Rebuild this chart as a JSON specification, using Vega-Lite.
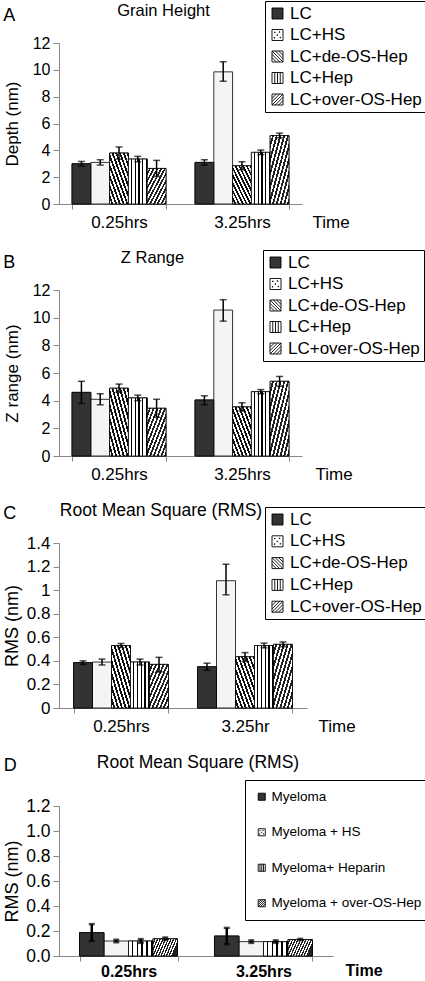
{
"$schema": "https://vega.github.io/schema/vega-lite/v6.json",
"background": "white",
"padding": {"left": 3, "top": 0, "right": 0, "bottom": 0},
"config": {
  "view": {"stroke": null},
  "font": "Liberation Sans",
  "axis": {"domainColor": "#888", "tickColor": "#888", "labelColor": "black", "titleColor": "black", "labelFont": "Liberation Sans", "titleFont": "Liberation Sans", "grid": false, "titleFontWeight": "normal"},
  "legend": {"labelFont": "Liberation Sans", "labelColor": "black", "labelLimit": 0, "symbolOpacity": 1, "symbolStrokeWidth": 0.9},
  "title": {"font": "Liberation Sans", "fontWeight": "normal", "color": "black"}
},
"datasets": {
  "a": [
    {"time": "0.25hrs", "series": "LC", "value": 3.0, "lo": 2.83, "hi": 3.17},
    {"time": "0.25hrs", "series": "LC+HS", "value": 3.1, "lo": 2.9, "hi": 3.3},
    {"time": "0.25hrs", "series": "LC+de-OS-Hep", "value": 3.8, "lo": 3.35, "hi": 4.25},
    {"time": "0.25hrs", "series": "LC+Hep", "value": 3.35, "lo": 3.15, "hi": 3.55},
    {"time": "0.25hrs", "series": "LC+over-OS-Hep", "value": 2.65, "lo": 2.05, "hi": 3.25},
    {"time": "3.25hrs", "series": "LC", "value": 3.1, "lo": 2.9, "hi": 3.3},
    {"time": "3.25hrs", "series": "LC+HS", "value": 9.85, "lo": 9.15, "hi": 10.6},
    {"time": "3.25hrs", "series": "LC+de-OS-Hep", "value": 2.85, "lo": 2.55, "hi": 3.15},
    {"time": "3.25hrs", "series": "LC+Hep", "value": 3.85, "lo": 3.68, "hi": 4.02},
    {"time": "3.25hrs", "series": "LC+over-OS-Hep", "value": 5.1, "lo": 4.93, "hi": 5.28}
  ],
  "b": [
    {"time": "0.25hrs", "series": "LC", "value": 4.6, "lo": 3.8, "hi": 5.4},
    {"time": "0.25hrs", "series": "LC+HS", "value": 4.1, "lo": 3.7, "hi": 4.5},
    {"time": "0.25hrs", "series": "LC+de-OS-Hep", "value": 4.9, "lo": 4.6, "hi": 5.2},
    {"time": "0.25hrs", "series": "LC+Hep", "value": 4.2, "lo": 4.0, "hi": 4.4},
    {"time": "0.25hrs", "series": "LC+over-OS-Hep", "value": 3.45, "lo": 2.8, "hi": 4.1},
    {"time": "3.25hrs", "series": "LC", "value": 4.05, "lo": 3.7, "hi": 4.35},
    {"time": "3.25hrs", "series": "LC+HS", "value": 10.55, "lo": 9.75, "hi": 11.3},
    {"time": "3.25hrs", "series": "LC+de-OS-Hep", "value": 3.55, "lo": 3.25, "hi": 3.85},
    {"time": "3.25hrs", "series": "LC+Hep", "value": 4.65, "lo": 4.5, "hi": 4.8},
    {"time": "3.25hrs", "series": "LC+over-OS-Hep", "value": 5.4, "lo": 5.05, "hi": 5.75}
  ],
  "c": [
    {"time": "0.25hrs", "series": "LC", "value": 0.385, "lo": 0.37, "hi": 0.4},
    {"time": "0.25hrs", "series": "LC+HS", "value": 0.39, "lo": 0.365, "hi": 0.415},
    {"time": "0.25hrs", "series": "LC+de-OS-Hep", "value": 0.53, "lo": 0.513, "hi": 0.547},
    {"time": "0.25hrs", "series": "LC+Hep", "value": 0.39, "lo": 0.365, "hi": 0.415},
    {"time": "0.25hrs", "series": "LC+over-OS-Hep", "value": 0.37, "lo": 0.305, "hi": 0.43},
    {"time": "3.25hr", "series": "LC", "value": 0.35, "lo": 0.32, "hi": 0.38},
    {"time": "3.25hr", "series": "LC+HS", "value": 1.08, "lo": 0.96, "hi": 1.22},
    {"time": "3.25hr", "series": "LC+de-OS-Hep", "value": 0.435, "lo": 0.395, "hi": 0.47},
    {"time": "3.25hr", "series": "LC+Hep", "value": 0.53, "lo": 0.51, "hi": 0.55},
    {"time": "3.25hr", "series": "LC+over-OS-Hep", "value": 0.54, "lo": 0.52, "hi": 0.56}
  ],
  "d": [
    {"time": "0.25hrs", "series": "Myeloma", "value": 0.187, "lo": 0.12, "hi": 0.255},
    {"time": "0.25hrs", "series": "Myeloma + HS", "value": 0.12, "lo": 0.11, "hi": 0.13},
    {"time": "0.25hrs", "series": "Myeloma+ Heparin", "value": 0.12, "lo": 0.105, "hi": 0.135},
    {"time": "0.25hrs", "series": "Myeloma + over-OS-Hep", "value": 0.138, "lo": 0.128, "hi": 0.148},
    {"time": "3.25hrs", "series": "Myeloma", "value": 0.16, "lo": 0.095, "hi": 0.225},
    {"time": "3.25hrs", "series": "Myeloma + HS", "value": 0.115, "lo": 0.105, "hi": 0.125},
    {"time": "3.25hrs", "series": "Myeloma+ Heparin", "value": 0.115, "lo": 0.105, "hi": 0.125},
    {"time": "3.25hrs", "series": "Myeloma + over-OS-Hep", "value": 0.132, "lo": 0.127, "hi": 0.137}
  ]
},
"concat": [
  {
    "title": {"text": "A", "anchor": "start", "frame": "bounds", "fontSize": 18, "offset": -24},
    "vconcat": [{
      "title": {"text": "Grain Height", "dx": -17, "fontSize": 16.5, "offset": 16},
      "width": 243, "height": 161,
      "data": {"name": "a"},
      "encoding": {
        "x": {"field": "time", "type": "nominal", "sort": null, "title": "Time",
          "scale": {"paddingInner": 0.236, "paddingOuter": 0.106},
          "axis": {"labelAngle": 0, "labelFontSize": 17, "tickBand": "extent", "titleX": 253, "titleY": 18, "titleAlign": "left", "titleBaseline": "middle", "titleFontSize": 17, "labelPadding": 5, "tickSize": 5}},
        "xOffset": {"field": "series", "type": "nominal", "sort": null, "scale": {"domain": ["LC", "LC+HS", "LC+de-OS-Hep", "LC+Hep", "LC+over-OS-Hep"], "paddingInner": 0, "paddingOuter": 0}},
        "y": {"field": "value", "type": "quantitative", "title": "Depth (nm)", "scale": {"domain": [0, 12]},
             "axis": {"values": [0, 2, 4, 6, 8, 10, 12], "labelFontSize": 16, "titleFontSize": 17, "tickSize": 6, "labelPadding": 3, "titlePadding": 11}}
      },
      "layer": [
        {"mark": {"type": "bar", "stroke": "black", "strokeWidth": 0.8, "fill": "#f4f4f4"}, "encoding": {}},
        {"transform": [{"filter": "datum.series === 'LC'"}], "mark": {"type": "bar", "stroke": "black", "strokeWidth": 0.8, "fill": "#333333"}, "encoding": {}},
        {"transform": [{"filter": "datum.series === 'LC+de-OS-Hep'"}],
         "mark": {"type": "bar", "stroke": "black", "strokeWidth": 0.8, "fill": {"gradient": "linear", "x1": 0, "y1": 1, "x2": 1, "y2": 0, "stops": [{"offset":0,"color":"#fff"},{"offset":0.05,"color":"#fff"},{"offset":0.05,"color":"#111"},{"offset":0.1,"color":"#111"},{"offset":0.1,"color":"#fff"},{"offset":0.15,"color":"#fff"},{"offset":0.15,"color":"#111"},{"offset":0.2,"color":"#111"},{"offset":0.2,"color":"#fff"},{"offset":0.25,"color":"#fff"},{"offset":0.25,"color":"#111"},{"offset":0.3,"color":"#111"},{"offset":0.3,"color":"#fff"},{"offset":0.35,"color":"#fff"},{"offset":0.35,"color":"#111"},{"offset":0.4,"color":"#111"},{"offset":0.4,"color":"#fff"},{"offset":0.45,"color":"#fff"},{"offset":0.45,"color":"#111"},{"offset":0.5,"color":"#111"},{"offset":0.5,"color":"#fff"},{"offset":0.55,"color":"#fff"},{"offset":0.55,"color":"#111"},{"offset":0.6,"color":"#111"},{"offset":0.6,"color":"#fff"},{"offset":0.65,"color":"#fff"},{"offset":0.65,"color":"#111"},{"offset":0.7,"color":"#111"},{"offset":0.7,"color":"#fff"},{"offset":0.75,"color":"#fff"},{"offset":0.75,"color":"#111"},{"offset":0.8,"color":"#111"},{"offset":0.8,"color":"#fff"},{"offset":0.85,"color":"#fff"},{"offset":0.85,"color":"#111"},{"offset":0.9,"color":"#111"},{"offset":0.9,"color":"#fff"},{"offset":0.95,"color":"#fff"},{"offset":0.95,"color":"#111"},{"offset":1,"color":"#111"}]}},
         "encoding": {}},
        {"transform": [{"filter": "datum.series === 'LC+Hep'"}],
         "mark": {"type": "bar", "stroke": "black", "strokeWidth": 0.8, "fill": {"gradient": "linear", "x1": 0, "y1": 0, "x2": 1, "y2": 0, "stops": [{"offset":0,"color":"#fff"},{"offset":0.13,"color":"#fff"},{"offset":0.13,"color":"#000"},{"offset":0.2,"color":"#000"},{"offset":0.2,"color":"#fff"},{"offset":0.33,"color":"#fff"},{"offset":0.33,"color":"#000"},{"offset":0.4,"color":"#000"},{"offset":0.4,"color":"#fff"},{"offset":0.53,"color":"#fff"},{"offset":0.53,"color":"#000"},{"offset":0.6,"color":"#000"},{"offset":0.6,"color":"#fff"},{"offset":0.73,"color":"#fff"},{"offset":0.73,"color":"#000"},{"offset":0.8,"color":"#000"},{"offset":0.8,"color":"#fff"},{"offset":0.93,"color":"#fff"},{"offset":0.93,"color":"#000"},{"offset":1,"color":"#000"}]}},
         "encoding": {}},
        {"transform": [{"filter": "datum.series === 'LC+over-OS-Hep'"}],
         "mark": {"type": "bar", "stroke": "black", "strokeWidth": 0.8, "fill": {"gradient": "linear", "x1": 0, "y1": 0, "x2": 1, "y2": 1, "stops": [{"offset":0,"color":"#fff"},{"offset":0.05,"color":"#fff"},{"offset":0.05,"color":"#222"},{"offset":0.1,"color":"#222"},{"offset":0.1,"color":"#fff"},{"offset":0.15,"color":"#fff"},{"offset":0.15,"color":"#222"},{"offset":0.2,"color":"#222"},{"offset":0.2,"color":"#fff"},{"offset":0.25,"color":"#fff"},{"offset":0.25,"color":"#222"},{"offset":0.3,"color":"#222"},{"offset":0.3,"color":"#fff"},{"offset":0.35,"color":"#fff"},{"offset":0.35,"color":"#222"},{"offset":0.4,"color":"#222"},{"offset":0.4,"color":"#fff"},{"offset":0.45,"color":"#fff"},{"offset":0.45,"color":"#222"},{"offset":0.5,"color":"#222"},{"offset":0.5,"color":"#fff"},{"offset":0.55,"color":"#fff"},{"offset":0.55,"color":"#222"},{"offset":0.6,"color":"#222"},{"offset":0.6,"color":"#fff"},{"offset":0.65,"color":"#fff"},{"offset":0.65,"color":"#222"},{"offset":0.7,"color":"#222"},{"offset":0.7,"color":"#fff"},{"offset":0.75,"color":"#fff"},{"offset":0.75,"color":"#222"},{"offset":0.8,"color":"#222"},{"offset":0.8,"color":"#fff"},{"offset":0.85,"color":"#fff"},{"offset":0.85,"color":"#222"},{"offset":0.9,"color":"#222"},{"offset":0.9,"color":"#fff"},{"offset":0.95,"color":"#fff"},{"offset":0.95,"color":"#222"},{"offset":1,"color":"#222"}]}},
         "encoding": {}},
        {"mark": {"type": "point", "opacity": 0},
         "encoding": {
           "fill": {"field": "series", "type": "nominal", "sort": null,
             "scale": {"domain": ["LC", "LC+HS", "LC+de-OS-Hep", "LC+Hep", "LC+over-OS-Hep"], "range": ["#333333", "#ffffff", "#ffffff", "#ffffff", "#ffffff"]},
             "legend": {"title": null, "orient": "none", "legendX": 206, "legendY": -42, "strokeColor": "black", "fillColor": "white", "padding": 4, "labelFontSize": 17, "symbolSize": 121, "rowPadding": 3.5, "labelOffset": 4}},
           "stroke": {"field": "series", "type": "nominal", "sort": null,
             "scale": {"domain": ["LC", "LC+HS", "LC+de-OS-Hep", "LC+Hep", "LC+over-OS-Hep"], "range": ["#000000", "#000000", "#000000", "#000000", "#000000"]},
             "legend": {"title": null, "orient": "none", "legendX": 206, "legendY": -42, "strokeColor": "black", "fillColor": "white", "padding": 4, "labelFontSize": 17, "symbolSize": 121, "rowPadding": 3.5, "labelOffset": 4}},
           "shape": {"field": "series", "type": "nominal", "sort": null,
             "scale": {"domain": ["LC", "LC+HS", "LC+de-OS-Hep", "LC+Hep", "LC+over-OS-Hep"], "range": ["M-1,-1H1V1H-1Z", "M-1,-1H1V1H-1Z M-0.55,-0.55h0.12v0.12h-0.12Z M0.3,-0.6h0.12v0.12h-0.12Z M-0.1,-0.05h0.12v0.12h-0.12Z M0.45,0.4h0.12v0.12h-0.12Z M-0.6,0.45h0.12v0.12h-0.12Z", "M-1,-1H1V1H-1Z M-1,-1L1,1 M-0.4,-1L1,0.4 M0.2,-1L1,-0.2 M-1,-0.4L0.4,1 M-1,0.2L-0.2,1", "M-1,-1H1V1H-1Z M-0.5,-1V1 M0,-1V1 M0.5,-1V1", "M-1,-1H1V1H-1Z M-1,1L1,-1 M-0.4,1L1,-0.4 M0.2,1L1,0.2 M-1,0.4L0.4,-1 M-1,-0.2L-0.2,-1"]},
             "legend": {"title": null, "orient": "none", "legendX": 206, "legendY": -42, "strokeColor": "black", "fillColor": "white", "padding": 4, "labelFontSize": 17, "symbolSize": 121, "rowPadding": 3.5, "labelOffset": 4}}
         }},
        {"mark": {"type": "rule", "strokeWidth": 1.5, "color": "black"},
         "encoding": {"y": {"field": "lo", "type": "quantitative", "title": "Depth (nm)"}, "y2": {"field": "hi"}}},
        {"mark": {"type": "tick", "color": "black", "thickness": 1.5, "size": 7},
         "encoding": {"y": {"field": "lo", "type": "quantitative", "title": "Depth (nm)"}}},
        {"mark": {"type": "tick", "color": "black", "thickness": 1.5, "size": 7},
         "encoding": {"y": {"field": "hi", "type": "quantitative", "title": "Depth (nm)"}}}
      ]
    }]
  },
  {
    "title": {"text": "B", "anchor": "start", "frame": "bounds", "fontSize": 18, "offset": -22},
    "vconcat": [{
      "title": {"text": "Z Range", "dx": -28, "fontSize": 16.5, "offset": 16},
      "width": 243, "height": 166,
      "data": {"name": "b"},
      "encoding": {
        "x": {"field": "time", "type": "nominal", "sort": null, "title": "Time",
          "scale": {"paddingInner": 0.236, "paddingOuter": 0.106},
          "axis": {"labelAngle": 0, "labelFontSize": 17, "tickBand": "extent", "titleX": 256, "titleY": 18, "titleAlign": "left", "titleBaseline": "middle", "titleFontSize": 17, "labelPadding": 5, "tickSize": 5}},
        "xOffset": {"field": "series", "type": "nominal", "sort": null, "scale": {"domain": ["LC", "LC+HS", "LC+de-OS-Hep", "LC+Hep", "LC+over-OS-Hep"], "paddingInner": 0, "paddingOuter": 0}},
        "y": {"field": "value", "type": "quantitative", "title": "Z range (nm)", "scale": {"domain": [0, 12]},
             "axis": {"values": [0, 2, 4, 6, 8, 10, 12], "labelFontSize": 16, "titleFontSize": 17, "tickSize": 6, "labelPadding": 3, "titlePadding": 11}}
      },
      "layer": [
        {"mark": {"type": "bar", "stroke": "black", "strokeWidth": 0.8, "fill": "#f4f4f4"}, "encoding": {}},
        {"transform": [{"filter": "datum.series === 'LC'"}], "mark": {"type": "bar", "stroke": "black", "strokeWidth": 0.8, "fill": "#333333"}, "encoding": {}},
        {"transform": [{"filter": "datum.series === 'LC+de-OS-Hep'"}],
         "mark": {"type": "bar", "stroke": "black", "strokeWidth": 0.8, "fill": {"gradient": "linear", "x1": 0, "y1": 1, "x2": 1, "y2": 0, "stops": [{"offset":0,"color":"#fff"},{"offset":0.05,"color":"#fff"},{"offset":0.05,"color":"#111"},{"offset":0.1,"color":"#111"},{"offset":0.1,"color":"#fff"},{"offset":0.15,"color":"#fff"},{"offset":0.15,"color":"#111"},{"offset":0.2,"color":"#111"},{"offset":0.2,"color":"#fff"},{"offset":0.25,"color":"#fff"},{"offset":0.25,"color":"#111"},{"offset":0.3,"color":"#111"},{"offset":0.3,"color":"#fff"},{"offset":0.35,"color":"#fff"},{"offset":0.35,"color":"#111"},{"offset":0.4,"color":"#111"},{"offset":0.4,"color":"#fff"},{"offset":0.45,"color":"#fff"},{"offset":0.45,"color":"#111"},{"offset":0.5,"color":"#111"},{"offset":0.5,"color":"#fff"},{"offset":0.55,"color":"#fff"},{"offset":0.55,"color":"#111"},{"offset":0.6,"color":"#111"},{"offset":0.6,"color":"#fff"},{"offset":0.65,"color":"#fff"},{"offset":0.65,"color":"#111"},{"offset":0.7,"color":"#111"},{"offset":0.7,"color":"#fff"},{"offset":0.75,"color":"#fff"},{"offset":0.75,"color":"#111"},{"offset":0.8,"color":"#111"},{"offset":0.8,"color":"#fff"},{"offset":0.85,"color":"#fff"},{"offset":0.85,"color":"#111"},{"offset":0.9,"color":"#111"},{"offset":0.9,"color":"#fff"},{"offset":0.95,"color":"#fff"},{"offset":0.95,"color":"#111"},{"offset":1,"color":"#111"}]}},
         "encoding": {}},
        {"transform": [{"filter": "datum.series === 'LC+Hep'"}],
         "mark": {"type": "bar", "stroke": "black", "strokeWidth": 0.8, "fill": {"gradient": "linear", "x1": 0, "y1": 0, "x2": 1, "y2": 0, "stops": [{"offset":0,"color":"#fff"},{"offset":0.13,"color":"#fff"},{"offset":0.13,"color":"#000"},{"offset":0.2,"color":"#000"},{"offset":0.2,"color":"#fff"},{"offset":0.33,"color":"#fff"},{"offset":0.33,"color":"#000"},{"offset":0.4,"color":"#000"},{"offset":0.4,"color":"#fff"},{"offset":0.53,"color":"#fff"},{"offset":0.53,"color":"#000"},{"offset":0.6,"color":"#000"},{"offset":0.6,"color":"#fff"},{"offset":0.73,"color":"#fff"},{"offset":0.73,"color":"#000"},{"offset":0.8,"color":"#000"},{"offset":0.8,"color":"#fff"},{"offset":0.93,"color":"#fff"},{"offset":0.93,"color":"#000"},{"offset":1,"color":"#000"}]}},
         "encoding": {}},
        {"transform": [{"filter": "datum.series === 'LC+over-OS-Hep'"}],
         "mark": {"type": "bar", "stroke": "black", "strokeWidth": 0.8, "fill": {"gradient": "linear", "x1": 0, "y1": 0, "x2": 1, "y2": 1, "stops": [{"offset":0,"color":"#fff"},{"offset":0.05,"color":"#fff"},{"offset":0.05,"color":"#222"},{"offset":0.1,"color":"#222"},{"offset":0.1,"color":"#fff"},{"offset":0.15,"color":"#fff"},{"offset":0.15,"color":"#222"},{"offset":0.2,"color":"#222"},{"offset":0.2,"color":"#fff"},{"offset":0.25,"color":"#fff"},{"offset":0.25,"color":"#222"},{"offset":0.3,"color":"#222"},{"offset":0.3,"color":"#fff"},{"offset":0.35,"color":"#fff"},{"offset":0.35,"color":"#222"},{"offset":0.4,"color":"#222"},{"offset":0.4,"color":"#fff"},{"offset":0.45,"color":"#fff"},{"offset":0.45,"color":"#222"},{"offset":0.5,"color":"#222"},{"offset":0.5,"color":"#fff"},{"offset":0.55,"color":"#fff"},{"offset":0.55,"color":"#222"},{"offset":0.6,"color":"#222"},{"offset":0.6,"color":"#fff"},{"offset":0.65,"color":"#fff"},{"offset":0.65,"color":"#222"},{"offset":0.7,"color":"#222"},{"offset":0.7,"color":"#fff"},{"offset":0.75,"color":"#fff"},{"offset":0.75,"color":"#222"},{"offset":0.8,"color":"#222"},{"offset":0.8,"color":"#fff"},{"offset":0.85,"color":"#fff"},{"offset":0.85,"color":"#222"},{"offset":0.9,"color":"#222"},{"offset":0.9,"color":"#fff"},{"offset":0.95,"color":"#fff"},{"offset":0.95,"color":"#222"},{"offset":1,"color":"#222"}]}},
         "encoding": {}},
        {"mark": {"type": "point", "opacity": 0},
         "encoding": {
           "fill": {"field": "series", "type": "nominal", "sort": null,
             "scale": {"domain": ["LC", "LC+HS", "LC+de-OS-Hep", "LC+Hep", "LC+over-OS-Hep"], "range": ["#333333", "#ffffff", "#ffffff", "#ffffff", "#ffffff"]},
             "legend": {"title": null, "orient": "none", "legendX": 204, "legendY": -40, "strokeColor": "black", "fillColor": "white", "padding": 4, "labelFontSize": 17, "symbolSize": 121, "rowPadding": 3.5, "labelOffset": 4}},
           "stroke": {"field": "series", "type": "nominal", "sort": null,
             "scale": {"domain": ["LC", "LC+HS", "LC+de-OS-Hep", "LC+Hep", "LC+over-OS-Hep"], "range": ["#000000", "#000000", "#000000", "#000000", "#000000"]},
             "legend": {"title": null, "orient": "none", "legendX": 204, "legendY": -40, "strokeColor": "black", "fillColor": "white", "padding": 4, "labelFontSize": 17, "symbolSize": 121, "rowPadding": 3.5, "labelOffset": 4}},
           "shape": {"field": "series", "type": "nominal", "sort": null,
             "scale": {"domain": ["LC", "LC+HS", "LC+de-OS-Hep", "LC+Hep", "LC+over-OS-Hep"], "range": ["M-1,-1H1V1H-1Z", "M-1,-1H1V1H-1Z M-0.55,-0.55h0.12v0.12h-0.12Z M0.3,-0.6h0.12v0.12h-0.12Z M-0.1,-0.05h0.12v0.12h-0.12Z M0.45,0.4h0.12v0.12h-0.12Z M-0.6,0.45h0.12v0.12h-0.12Z", "M-1,-1H1V1H-1Z M-1,-1L1,1 M-0.4,-1L1,0.4 M0.2,-1L1,-0.2 M-1,-0.4L0.4,1 M-1,0.2L-0.2,1", "M-1,-1H1V1H-1Z M-0.5,-1V1 M0,-1V1 M0.5,-1V1", "M-1,-1H1V1H-1Z M-1,1L1,-1 M-0.4,1L1,-0.4 M0.2,1L1,0.2 M-1,0.4L0.4,-1 M-1,-0.2L-0.2,-1"]},
             "legend": {"title": null, "orient": "none", "legendX": 204, "legendY": -40, "strokeColor": "black", "fillColor": "white", "padding": 4, "labelFontSize": 17, "symbolSize": 121, "rowPadding": 3.5, "labelOffset": 4}}
         }},
        {"mark": {"type": "rule", "strokeWidth": 1.5, "color": "black"},
         "encoding": {"y": {"field": "lo", "type": "quantitative", "title": "Z range (nm)"}, "y2": {"field": "hi"}}},
        {"mark": {"type": "tick", "color": "black", "thickness": 1.5, "size": 7},
         "encoding": {"y": {"field": "lo", "type": "quantitative", "title": "Z range (nm)"}}},
        {"mark": {"type": "tick", "color": "black", "thickness": 1.5, "size": 7},
         "encoding": {"y": {"field": "hi", "type": "quantitative", "title": "Z range (nm)"}}}
      ]
    }]
  },
  {
    "title": {"text": "C", "anchor": "start", "frame": "bounds", "fontSize": 18, "offset": -21},
    "vconcat": [{
      "title": {"text": "Root Mean Square (RMS)", "dx": -22, "fontSize": 17.5, "offset": 15},
      "width": 248, "height": 165,
      "data": {"name": "c"},
      "encoding": {
        "x": {"field": "time", "type": "nominal", "sort": null, "title": "Time",
          "scale": {"paddingInner": 0.234, "paddingOuter": 0.117},
          "axis": {"labelAngle": 0, "labelFontSize": 17, "tickBand": "extent", "titleX": 259, "titleY": 18, "titleAlign": "left", "titleBaseline": "middle", "titleFontSize": 17, "labelPadding": 5, "tickSize": 5}},
        "xOffset": {"field": "series", "type": "nominal", "sort": null, "scale": {"domain": ["LC", "LC+HS", "LC+de-OS-Hep", "LC+Hep", "LC+over-OS-Hep"], "paddingInner": 0, "paddingOuter": 0}},
        "y": {"field": "value", "type": "quantitative", "title": "RMS (nm)", "scale": {"domain": [0, 1.4]},
             "axis": {"values": [0, 0.2, 0.4, 0.6, 0.8, 1, 1.2, 1.4], "format": "~g", "labelFontSize": 17, "titleFontSize": 18, "tickSize": 6, "labelPadding": 3, "titlePadding": 5}}
      },
      "layer": [
        {"mark": {"type": "bar", "stroke": "black", "strokeWidth": 0.8, "fill": "#f4f4f4"}, "encoding": {}},
        {"transform": [{"filter": "datum.series === 'LC'"}], "mark": {"type": "bar", "stroke": "black", "strokeWidth": 0.8, "fill": "#333333"}, "encoding": {}},
        {"transform": [{"filter": "datum.series === 'LC+de-OS-Hep'"}],
         "mark": {"type": "bar", "stroke": "black", "strokeWidth": 0.8, "fill": {"gradient": "linear", "x1": 0, "y1": 1, "x2": 1, "y2": 0, "stops": [{"offset":0,"color":"#fff"},{"offset":0.05,"color":"#fff"},{"offset":0.05,"color":"#111"},{"offset":0.1,"color":"#111"},{"offset":0.1,"color":"#fff"},{"offset":0.15,"color":"#fff"},{"offset":0.15,"color":"#111"},{"offset":0.2,"color":"#111"},{"offset":0.2,"color":"#fff"},{"offset":0.25,"color":"#fff"},{"offset":0.25,"color":"#111"},{"offset":0.3,"color":"#111"},{"offset":0.3,"color":"#fff"},{"offset":0.35,"color":"#fff"},{"offset":0.35,"color":"#111"},{"offset":0.4,"color":"#111"},{"offset":0.4,"color":"#fff"},{"offset":0.45,"color":"#fff"},{"offset":0.45,"color":"#111"},{"offset":0.5,"color":"#111"},{"offset":0.5,"color":"#fff"},{"offset":0.55,"color":"#fff"},{"offset":0.55,"color":"#111"},{"offset":0.6,"color":"#111"},{"offset":0.6,"color":"#fff"},{"offset":0.65,"color":"#fff"},{"offset":0.65,"color":"#111"},{"offset":0.7,"color":"#111"},{"offset":0.7,"color":"#fff"},{"offset":0.75,"color":"#fff"},{"offset":0.75,"color":"#111"},{"offset":0.8,"color":"#111"},{"offset":0.8,"color":"#fff"},{"offset":0.85,"color":"#fff"},{"offset":0.85,"color":"#111"},{"offset":0.9,"color":"#111"},{"offset":0.9,"color":"#fff"},{"offset":0.95,"color":"#fff"},{"offset":0.95,"color":"#111"},{"offset":1,"color":"#111"}]}},
         "encoding": {}},
        {"transform": [{"filter": "datum.series === 'LC+Hep'"}],
         "mark": {"type": "bar", "stroke": "black", "strokeWidth": 0.8, "fill": {"gradient": "linear", "x1": 0, "y1": 0, "x2": 1, "y2": 0, "stops": [{"offset":0,"color":"#fff"},{"offset":0.13,"color":"#fff"},{"offset":0.13,"color":"#000"},{"offset":0.2,"color":"#000"},{"offset":0.2,"color":"#fff"},{"offset":0.33,"color":"#fff"},{"offset":0.33,"color":"#000"},{"offset":0.4,"color":"#000"},{"offset":0.4,"color":"#fff"},{"offset":0.53,"color":"#fff"},{"offset":0.53,"color":"#000"},{"offset":0.6,"color":"#000"},{"offset":0.6,"color":"#fff"},{"offset":0.73,"color":"#fff"},{"offset":0.73,"color":"#000"},{"offset":0.8,"color":"#000"},{"offset":0.8,"color":"#fff"},{"offset":0.93,"color":"#fff"},{"offset":0.93,"color":"#000"},{"offset":1,"color":"#000"}]}},
         "encoding": {}},
        {"transform": [{"filter": "datum.series === 'LC+over-OS-Hep'"}],
         "mark": {"type": "bar", "stroke": "black", "strokeWidth": 0.8, "fill": {"gradient": "linear", "x1": 0, "y1": 0, "x2": 1, "y2": 1, "stops": [{"offset":0,"color":"#fff"},{"offset":0.05,"color":"#fff"},{"offset":0.05,"color":"#222"},{"offset":0.1,"color":"#222"},{"offset":0.1,"color":"#fff"},{"offset":0.15,"color":"#fff"},{"offset":0.15,"color":"#222"},{"offset":0.2,"color":"#222"},{"offset":0.2,"color":"#fff"},{"offset":0.25,"color":"#fff"},{"offset":0.25,"color":"#222"},{"offset":0.3,"color":"#222"},{"offset":0.3,"color":"#fff"},{"offset":0.35,"color":"#fff"},{"offset":0.35,"color":"#222"},{"offset":0.4,"color":"#222"},{"offset":0.4,"color":"#fff"},{"offset":0.45,"color":"#fff"},{"offset":0.45,"color":"#222"},{"offset":0.5,"color":"#222"},{"offset":0.5,"color":"#fff"},{"offset":0.55,"color":"#fff"},{"offset":0.55,"color":"#222"},{"offset":0.6,"color":"#222"},{"offset":0.6,"color":"#fff"},{"offset":0.65,"color":"#fff"},{"offset":0.65,"color":"#222"},{"offset":0.7,"color":"#222"},{"offset":0.7,"color":"#fff"},{"offset":0.75,"color":"#fff"},{"offset":0.75,"color":"#222"},{"offset":0.8,"color":"#222"},{"offset":0.8,"color":"#fff"},{"offset":0.85,"color":"#fff"},{"offset":0.85,"color":"#222"},{"offset":0.9,"color":"#222"},{"offset":0.9,"color":"#fff"},{"offset":0.95,"color":"#fff"},{"offset":0.95,"color":"#222"},{"offset":1,"color":"#222"}]}},
         "encoding": {}},
        {"mark": {"type": "point", "opacity": 0},
         "encoding": {
           "fill": {"field": "series", "type": "nominal", "sort": null,
             "scale": {"domain": ["LC", "LC+HS", "LC+de-OS-Hep", "LC+Hep", "LC+over-OS-Hep"], "range": ["#333333", "#ffffff", "#ffffff", "#ffffff", "#ffffff"]},
             "legend": {"title": null, "orient": "none", "legendX": 206, "legendY": -36, "strokeColor": "black", "fillColor": "white", "padding": 4, "labelFontSize": 17, "symbolSize": 121, "rowPadding": 3.8, "labelOffset": 4}},
           "stroke": {"field": "series", "type": "nominal", "sort": null,
             "scale": {"domain": ["LC", "LC+HS", "LC+de-OS-Hep", "LC+Hep", "LC+over-OS-Hep"], "range": ["#000000", "#000000", "#000000", "#000000", "#000000"]},
             "legend": {"title": null, "orient": "none", "legendX": 206, "legendY": -36, "strokeColor": "black", "fillColor": "white", "padding": 4, "labelFontSize": 17, "symbolSize": 121, "rowPadding": 3.8, "labelOffset": 4}},
           "shape": {"field": "series", "type": "nominal", "sort": null,
             "scale": {"domain": ["LC", "LC+HS", "LC+de-OS-Hep", "LC+Hep", "LC+over-OS-Hep"], "range": ["M-1,-1H1V1H-1Z", "M-1,-1H1V1H-1Z M-0.55,-0.55h0.12v0.12h-0.12Z M0.3,-0.6h0.12v0.12h-0.12Z M-0.1,-0.05h0.12v0.12h-0.12Z M0.45,0.4h0.12v0.12h-0.12Z M-0.6,0.45h0.12v0.12h-0.12Z", "M-1,-1H1V1H-1Z M-1,-1L1,1 M-0.4,-1L1,0.4 M0.2,-1L1,-0.2 M-1,-0.4L0.4,1 M-1,0.2L-0.2,1", "M-1,-1H1V1H-1Z M-0.5,-1V1 M0,-1V1 M0.5,-1V1", "M-1,-1H1V1H-1Z M-1,1L1,-1 M-0.4,1L1,-0.4 M0.2,1L1,0.2 M-1,0.4L0.4,-1 M-1,-0.2L-0.2,-1"]},
             "legend": {"title": null, "orient": "none", "legendX": 206, "legendY": -36, "strokeColor": "black", "fillColor": "white", "padding": 4, "labelFontSize": 17, "symbolSize": 121, "rowPadding": 3.8, "labelOffset": 4}}
         }},
        {"mark": {"type": "rule", "strokeWidth": 1.5, "color": "black"},
         "encoding": {"y": {"field": "lo", "type": "quantitative", "title": "RMS (nm)"}, "y2": {"field": "hi"}}},
        {"mark": {"type": "tick", "color": "black", "thickness": 1.5, "size": 7},
         "encoding": {"y": {"field": "lo", "type": "quantitative", "title": "RMS (nm)"}}},
        {"mark": {"type": "tick", "color": "black", "thickness": 1.5, "size": 7},
         "encoding": {"y": {"field": "hi", "type": "quantitative", "title": "RMS (nm)"}}}
      ]
    }]
  },
  {
    "title": {"text": "D", "anchor": "start", "frame": "bounds", "fontSize": 18, "offset": -21},
    "vconcat": [{
      "title": {"text": "Root Mean Square (RMS)", "dx": 2, "fontSize": 17.5, "offset": 26},
      "width": 274, "height": 150,
      "data": {"name": "d"},
      "encoding": {
        "x": {"field": "time", "type": "nominal", "sort": null, "title": "Time",
          "scale": {"paddingInner": 0.274, "paddingOuter": 0.152},
          "axis": {"labelAngle": 0, "labelFontSize": 16, "labelFontWeight": "bold", "tickBand": "extent", "titleX": 286, "titleY": 14, "titleAlign": "left", "titleBaseline": "middle", "titleFontSize": 16, "titleFontWeight": "bold", "labelPadding": 2, "tickSize": 5}},
        "xOffset": {"field": "series", "type": "nominal", "sort": null, "scale": {"domain": ["Myeloma", "Myeloma + HS", "Myeloma+ Heparin", "Myeloma + over-OS-Hep"], "paddingInner": 0, "paddingOuter": 0}},
        "y": {"field": "value", "type": "quantitative", "title": "RMS (nm)", "scale": {"domain": [0, 1.2]},
             "axis": {"values": [0, 0.2, 0.4, 0.6, 0.8, 1, 1.2], "format": ".1f", "labelFontSize": 17.5, "titleFontSize": 18, "tickSize": 6, "labelPadding": 3, "titlePadding": 4}}
      },
      "layer": [
        {"mark": {"type": "bar", "stroke": "black", "strokeWidth": 0.8, "fill": "#f4f4f4"}, "encoding": {}},
        {"transform": [{"filter": "datum.series === 'Myeloma'"}], "mark": {"type": "bar", "stroke": "black", "strokeWidth": 0.8, "fill": "#333333"}, "encoding": {}},
        {"transform": [{"filter": "datum.series === 'Myeloma+ Heparin'"}],
         "mark": {"type": "bar", "stroke": "black", "strokeWidth": 0.8, "fill": {"gradient": "linear", "x1": 0, "y1": 0, "x2": 1, "y2": 0, "stops": [{"offset":0,"color":"#fff"},{"offset":0.13,"color":"#fff"},{"offset":0.13,"color":"#000"},{"offset":0.2,"color":"#000"},{"offset":0.2,"color":"#fff"},{"offset":0.33,"color":"#fff"},{"offset":0.33,"color":"#000"},{"offset":0.4,"color":"#000"},{"offset":0.4,"color":"#fff"},{"offset":0.53,"color":"#fff"},{"offset":0.53,"color":"#000"},{"offset":0.6,"color":"#000"},{"offset":0.6,"color":"#fff"},{"offset":0.73,"color":"#fff"},{"offset":0.73,"color":"#000"},{"offset":0.8,"color":"#000"},{"offset":0.8,"color":"#fff"},{"offset":0.93,"color":"#fff"},{"offset":0.93,"color":"#000"},{"offset":1,"color":"#000"}]}},
         "encoding": {}},
        {"transform": [{"filter": "datum.series === 'Myeloma + over-OS-Hep'"}],
         "mark": {"type": "bar", "stroke": "black", "strokeWidth": 0.8, "fill": {"gradient": "linear", "x1": 0, "y1": 0, "x2": 1, "y2": 0.3, "stops": [{"offset":0,"color":"#fff"},{"offset":0.05,"color":"#fff"},{"offset":0.05,"color":"#222"},{"offset":0.1,"color":"#222"},{"offset":0.1,"color":"#fff"},{"offset":0.15,"color":"#fff"},{"offset":0.15,"color":"#222"},{"offset":0.2,"color":"#222"},{"offset":0.2,"color":"#fff"},{"offset":0.25,"color":"#fff"},{"offset":0.25,"color":"#222"},{"offset":0.3,"color":"#222"},{"offset":0.3,"color":"#fff"},{"offset":0.35,"color":"#fff"},{"offset":0.35,"color":"#222"},{"offset":0.4,"color":"#222"},{"offset":0.4,"color":"#fff"},{"offset":0.45,"color":"#fff"},{"offset":0.45,"color":"#222"},{"offset":0.5,"color":"#222"},{"offset":0.5,"color":"#fff"},{"offset":0.55,"color":"#fff"},{"offset":0.55,"color":"#222"},{"offset":0.6,"color":"#222"},{"offset":0.6,"color":"#fff"},{"offset":0.65,"color":"#fff"},{"offset":0.65,"color":"#222"},{"offset":0.7,"color":"#222"},{"offset":0.7,"color":"#fff"},{"offset":0.75,"color":"#fff"},{"offset":0.75,"color":"#222"},{"offset":0.8,"color":"#222"},{"offset":0.8,"color":"#fff"},{"offset":0.85,"color":"#fff"},{"offset":0.85,"color":"#222"},{"offset":0.9,"color":"#222"},{"offset":0.9,"color":"#fff"},{"offset":0.95,"color":"#fff"},{"offset":0.95,"color":"#222"},{"offset":1,"color":"#222"}]}},
         "encoding": {}},
        {"mark": {"type": "point", "opacity": 0},
         "encoding": {
           "fill": {"field": "series", "type": "nominal", "sort": null,
             "scale": {"domain": ["Myeloma", "Myeloma + HS", "Myeloma+ Heparin", "Myeloma + over-OS-Hep"], "range": ["#333333", "#ffffff", "#ffffff", "#ffffff"]},
             "legend": {"title": null, "orient": "none", "legendX": 186, "legendY": -26, "strokeColor": "black", "fillColor": "white", "padding": 10, "labelFontSize": 13.5, "symbolSize": 50, "rowPadding": 20.5, "labelOffset": 3}},
           "stroke": {"field": "series", "type": "nominal", "sort": null,
             "scale": {"domain": ["Myeloma", "Myeloma + HS", "Myeloma+ Heparin", "Myeloma + over-OS-Hep"], "range": ["#000000", "#000000", "#000000", "#000000"]},
             "legend": {"title": null, "orient": "none", "legendX": 186, "legendY": -26, "strokeColor": "black", "fillColor": "white", "padding": 10, "labelFontSize": 13.5, "symbolSize": 50, "rowPadding": 20.5, "labelOffset": 3}},
           "shape": {"field": "series", "type": "nominal", "sort": null,
             "scale": {"domain": ["Myeloma", "Myeloma + HS", "Myeloma+ Heparin", "Myeloma + over-OS-Hep"], "range": ["M-1,-1H1V1H-1Z", "M-1,-1H1V1H-1Z M-0.55,-0.55h0.12v0.12h-0.12Z M0.3,-0.6h0.12v0.12h-0.12Z M-0.1,-0.05h0.12v0.12h-0.12Z M0.45,0.4h0.12v0.12h-0.12Z M-0.6,0.45h0.12v0.12h-0.12Z", "M-1,-1H1V1H-1Z M-0.5,-1V1 M0,-1V1 M0.5,-1V1", "M-1,-1H1V1H-1Z M-1,1L1,-1 M-0.4,1L1,-0.4 M0.2,1L1,0.2 M-1,0.4L0.4,-1 M-1,-0.2L-0.2,-1"]},
             "legend": {"title": null, "orient": "none", "legendX": 186, "legendY": -26, "strokeColor": "black", "fillColor": "white", "padding": 10, "labelFontSize": 13.5, "symbolSize": 50, "rowPadding": 20.5, "labelOffset": 3}}
         }},
        {"mark": {"type": "rule", "strokeWidth": 2.5, "color": "black"},
         "encoding": {"y": {"field": "lo", "type": "quantitative", "title": "RMS (nm)"}, "y2": {"field": "hi"}}},
        {"mark": {"type": "tick", "color": "black", "thickness": 2.5, "size": 6},
         "encoding": {"y": {"field": "lo", "type": "quantitative", "title": "RMS (nm)"}}},
        {"mark": {"type": "tick", "color": "black", "thickness": 2.5, "size": 6},
         "encoding": {"y": {"field": "hi", "type": "quantitative", "title": "RMS (nm)"}}}
      ]
    }]
  }
],
"columns": 1,
"align": "none",
"spacing": 19,
"resolve": {"scale": {"x": "independent", "y": "independent", "fill": "independent", "stroke": "independent", "shape": "independent", "xOffset": "independent"}, "legend": {"fill": "independent", "stroke": "independent", "shape": "independent"}}
}
